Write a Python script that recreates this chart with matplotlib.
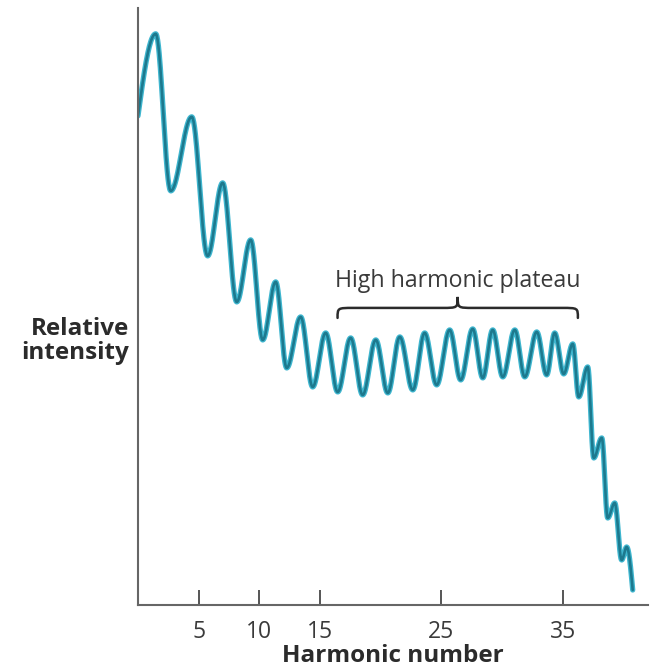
import numpy as np
from matplotlib import pyplot as plt
from matplotlib.path import Path
from matplotlib.patches import PathPatch

plt.rcParams['font.family'] = ['Open Sans', 'DejaVu Sans']

# turning points of the spectrum (harmonic number, relative intensity)
harmonic = [0.0, 1.46, 2.70, 4.43, 5.74, 6.98, 8.14, 9.29, 10.28, 11.35, 12.26,
            13.41, 14.40, 15.47, 16.46, 17.53, 18.52, 19.60, 20.59, 21.58, 22.65,
            23.63, 24.62, 25.69, 26.60, 27.59, 28.42, 29.24, 30.07, 31.06, 31.88,
            32.87, 33.69, 34.35, 35.09, 35.84, 36.33, 37.07, 37.57, 38.23, 38.72,
            39.30, 39.87, 40.28, 40.78]
intensity = [48.9, 57.1, 41.4, 48.8, 34.9, 42.2, 30.3, 36.5, 26.5, 32.3, 23.7,
             28.8, 21.8, 27.2, 21.3, 26.7, 21.0, 26.5, 21.2, 26.8, 21.5,
             27.2, 22.0, 27.5, 22.5, 27.6, 22.7, 27.5, 22.8, 27.5, 22.8,
             27.3, 23.0, 27.2, 23.1, 26.1, 20.8, 23.8, 14.7, 16.7, 8.7,
             10.2, 4.5, 5.8, 1.5]

xticks = [5, 10, 15, 25, 35]
plateau_label = 'High harmonic plateau'


def smooth_curve(xs, ys, n=40):
    # join neighbouring turning points with half-cosine arcs so the line stays smooth
    out_x, out_y = [], []
    last = len(xs) - 2
    for i in range(len(xs) - 1):
        t = np.linspace(0, 1, n)
        if i == 0:
            s = np.sin(t * np.pi / 2)
        elif i == last:
            s = 1 - np.cos(t * np.pi / 2)
        else:
            s = (1 - np.cos(t * np.pi)) / 2
        out_x.extend(xs[i] + (xs[i + 1] - xs[i]) * t)
        out_y.extend(ys[i] + (ys[i + 1] - ys[i]) * s)
    return np.array(out_x), np.array(out_y)


def brace(ax, x0, x1, y_end, y_mid, y_tip, r):
    xc = (x0 + x1) / 2
    verts = [
        (x0, y_end), (x0, y_mid), (x0, y_mid), (x0 + r, y_mid),
        (xc - r, y_mid),
        (xc, y_mid), (xc, y_mid), (xc, y_tip),
        (xc, y_mid), (xc, y_mid), (xc + r, y_mid),
        (x1 - r, y_mid),
        (x1, y_mid), (x1, y_mid), (x1, y_end),
    ]
    codes = [Path.MOVETO, Path.CURVE4, Path.CURVE4, Path.CURVE4,
             Path.LINETO,
             Path.CURVE4, Path.CURVE4, Path.CURVE4,
             Path.CURVE4, Path.CURVE4, Path.CURVE4,
             Path.LINETO,
             Path.CURVE4, Path.CURVE4, Path.CURVE4]
    ax.add_patch(PathPatch(Path(verts, codes), fill=False, lw=1.8,
                           edgecolor='#2b2b2b', capstyle='round'))


fig = plt.figure(figsize=(6.54, 6.68), dpi=100)
ax = fig.add_axes([0.211, 0.0943, 0.780, 0.894])

cx, cy = smooth_curve(harmonic, intensity)
ax.plot(cx, cy, color='#3fb6cf', lw=3.8, solid_capstyle='round')
ax.plot(cx, cy, color='#1d798e', lw=1.9, solid_capstyle='round')

brace(ax, 16.45, 36.26, 28.7, 29.7, 30.8, 1.3)
ax.text(26.35, 31.2, plateau_label, ha='center', va='bottom',
        fontsize=16.7, color='#3a3a3a')

ax.set_xlim(0, 42.05)
ax.set_ylim(0, 59.7)
ax.set_xticks(xticks)
ax.set_xticklabels([str(t) for t in xticks])
ax.set_yticks([])
ax.tick_params(axis='x', direction='in', length=11, width=1.4, color='#555555',
               pad=11, labelsize=16.5, labelcolor='#3a3a3a')

for side in ['top', 'right']:
    ax.spines[side].set_visible(False)
for side in ['left', 'bottom']:
    ax.spines[side].set_color('#666666')
    ax.spines[side].set_linewidth(1.5)

ax.set_xlabel('Harmonic number', fontsize=17.5, fontweight='bold',
              color='#2b2b2b', labelpad=0)
fig.text(129 / 654, 1 - 341 / 668, 'Relative\nintensity', ha='right', va='center',
         fontsize=17.5, fontweight='bold', color='#2b2b2b', linespacing=1.0)

plt.savefig('out.png', dpi=100)
plt.close()
